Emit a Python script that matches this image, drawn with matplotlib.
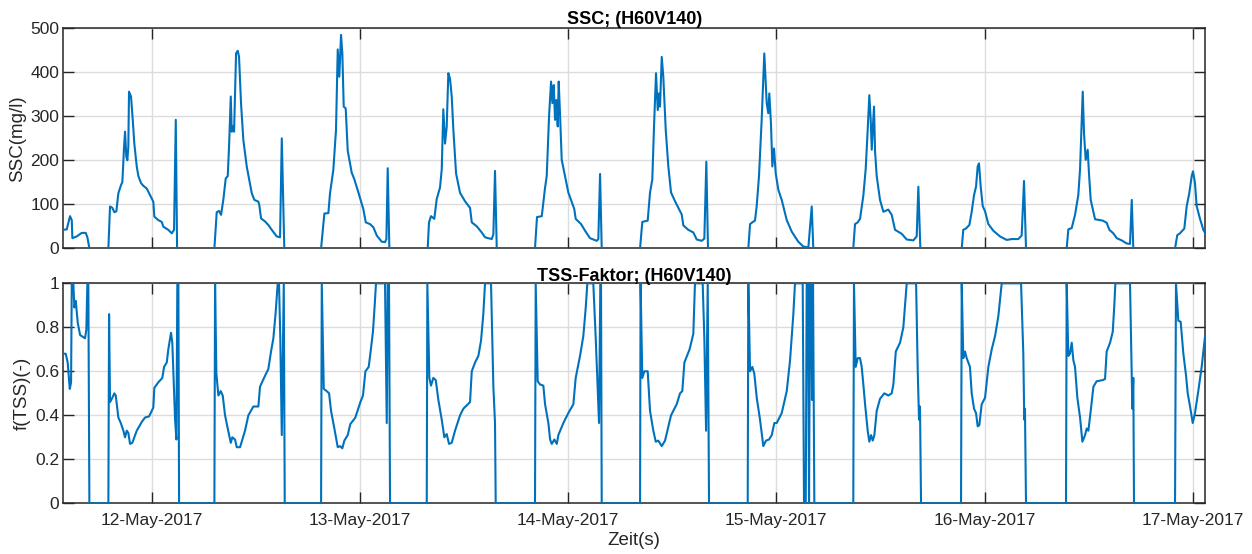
import matplotlib
matplotlib.use("Agg")
import matplotlib.pyplot as plt
import matplotlib.dates as mdates
import numpy as np
import pandas as pd

plt.rcParams['font.family'] = ['Liberation Sans', 'DejaVu Sans']

# Zeit in Stunden ab 11-May-2017 00:00
ssc_hours = [
    13.81, 14.20, 14.58, 14.78, 14.85, 15.35, 15.93, 16.39, 16.58, 16.81,
    19.00, 19.19, 19.46, 19.69, 19.92, 20.15, 20.46, 20.61, 20.81, 20.92,
    21.07, 21.19, 21.30, 21.38, 21.61, 21.81, 21.99, 22.27, 22.46, 22.77,
    23.03, 23.42, 23.80, 24.18, 24.30, 24.76, 25.15, 25.34, 25.91, 26.31,
    26.57, 26.77, 26.92,
    31.22, 31.49, 31.76, 31.99, 32.25, 32.53, 32.76, 32.91, 33.11, 33.22,
    33.37, 33.49, 33.72, 33.91, 34.06, 34.29, 34.56, 34.95, 35.53, 35.83,
    36.29, 36.40, 36.60, 37.06, 37.44, 37.83, 38.41, 38.79, 38.99, 39.28,
    43.52, 43.90, 44.36, 44.55, 44.93, 45.24, 45.44, 45.62, 45.82, 45.97,
    46.13, 46.36, 46.59, 47.05, 47.35, 47.82, 48.39, 48.67, 49.16, 49.54,
    49.94, 50.51, 50.89, 51.05, 51.20, 51.39,
    55.81, 55.96, 56.19, 56.57, 56.85, 57.23, 57.43, 57.61, 57.81, 58.00,
    58.19, 58.38, 58.58, 58.77, 59.08, 59.54, 60.11, 60.69, 60.89, 61.46,
    62.04, 62.42, 63.19, 63.38, 63.57, 63.77,
    68.18, 68.41, 68.96, 69.34, 69.53, 69.80, 70.03, 70.18, 70.34, 70.49,
    70.64, 70.80, 70.91, 71.06, 71.26, 71.64, 72.02, 72.71, 72.87, 73.49,
    73.95, 74.52, 75.30, 75.48, 75.68, 75.87,
    80.29, 80.55, 81.17, 81.44, 81.70, 81.90, 82.13, 82.33, 82.48, 82.59,
    82.79, 82.97, 83.25, 83.55, 83.86, 84.32, 84.70, 85.09, 85.28, 85.85,
    86.43, 86.82, 87.40, 87.70, 87.93, 88.12,
    92.77, 92.97, 93.23, 93.54, 93.74, 94.00, 94.31, 94.61, 94.89, 95.07,
    95.19, 95.38, 95.54, 95.73, 95.93, 96.23, 96.62, 97.20, 97.77, 98.53,
    99.11, 99.69, 100.08, 100.26,
    104.87, 105.07, 105.38, 105.65, 106.03, 106.30, 106.53, 106.72, 106.88, 107.00,
    107.15, 107.26, 107.38, 107.57, 107.95, 108.34, 108.91, 109.30, 109.68, 110.45,
    111.03, 111.79, 112.18, 112.37, 112.60,
    117.37, 117.55, 117.86, 118.25, 118.52, 118.79, 119.02, 119.21, 119.36, 119.56,
    119.79, 120.06, 120.44, 121.01, 121.78, 122.56, 123.13, 123.89, 124.28, 124.55,
    124.78,
    129.47, 129.66, 130.05, 130.43, 130.81, 131.01, 131.32, 131.47, 131.66, 131.89,
    132.04, 132.24, 132.74, 133.62, 134.08, 134.39, 134.85, 135.24, 135.81, 136.39,
    136.77, 136.97, 137.15,
    141.96, 142.22, 142.53, 143.03, 143.30, 143.60, 143.88, 144.03, 144.26, 144.45,
    144.84, 145.22, 145.42,
]
ssc_values = [
    42, 43, 73, 64, 23, 27, 35, 35, 25, 0,
    0, 95, 92, 82, 84, 125, 144, 150, 231, 265,
    208, 200, 231, 356, 345, 292, 238, 186, 164, 148,
    142, 136, 121, 106, 72, 64, 60, 49, 42, 34,
    42, 292, 0,
    0, 82, 85, 76, 110, 159, 164, 231, 345, 265,
    277, 265, 443, 449, 436, 330, 246, 186, 125, 110,
    106, 98, 68, 61, 53, 42, 27, 25, 250, 0,
    0, 79, 80, 125, 178, 269, 452, 390, 485, 443,
    322, 318, 222, 172, 157, 127, 89, 59, 55, 48,
    29, 15, 14, 21, 182, 0,
    0, 59, 73, 67, 112, 138, 180, 316, 238, 276,
    398, 386, 345, 269, 170, 126, 107, 92, 59, 50,
    36, 25, 21, 32, 176, 0,
    0, 71, 73, 138, 164, 300, 379, 330, 371, 292,
    337, 277, 379, 307, 201, 164, 127, 89, 67, 55,
    40, 23, 17, 21, 169, 0,
    0, 60, 63, 127, 156, 277, 398, 314, 352, 322,
    435, 390, 269, 186, 127, 107, 92, 77, 52, 42,
    36, 20, 17, 22, 197, 0,
    0, 55, 59, 63, 97, 164, 292, 443, 330, 307,
    352, 284, 186, 227, 170, 133, 110, 64, 38, 15,
    4, 2, 95, 0,
    0, 55, 59, 67, 120, 180, 269, 348, 292, 224,
    284, 322, 220, 164, 110, 83, 88, 76, 42, 33,
    20, 18, 27, 140, 0,
    0, 42, 45, 53, 83, 121, 140, 186, 193, 140,
    96, 84, 55, 40, 27, 19, 21, 21, 29, 153,
    0,
    0, 43, 46, 76, 121, 180, 356, 261, 201, 224,
    170, 110, 66, 63, 58, 42, 34, 23, 18, 11,
    10, 110, 0,
    0, 30, 34, 45, 95, 125, 164, 175, 148, 96,
    67, 42, 35,
]

tss_hours = [
    13.81, 14.08, 14.31, 14.55, 14.70, 14.78, 14.96, 15.08, 15.24, 15.47,
    15.74, 16.31, 16.46, 16.58, 16.69, 16.81,
    19.00, 19.08, 19.19, 19.46, 19.69, 19.85, 20.15, 20.43, 20.73, 20.92,
    21.12, 21.30, 21.50, 21.76, 22.27, 22.85, 23.23, 23.69, 24.18, 24.30,
    24.76, 25.22, 25.42, 25.73, 25.91, 26.22, 26.37, 26.69, 26.84, 26.95,
    27.07, 27.15,
    31.22, 31.30, 31.45, 31.68, 31.95, 32.18, 32.45, 32.76, 33.11, 33.29,
    33.60, 33.80, 34.18, 34.75, 35.14, 35.71, 36.29, 36.48, 37.06, 37.44,
    37.75, 38.02, 38.29, 38.52, 38.67, 38.82, 38.99, 39.22, 39.33,
    43.52, 43.60, 43.83, 44.17, 44.44, 44.67, 45.05, 45.44, 45.71, 45.97,
    46.20, 46.59, 46.89, 47.47, 48.05, 48.35, 48.63, 49.01, 49.20, 49.50,
    49.70, 49.85, 50.89, 51.09, 51.20, 51.35, 51.47,
    55.70, 55.77, 56.00, 56.19, 56.46, 56.74, 57.04, 57.43, 57.73, 58.00,
    58.27, 58.58, 58.96, 59.54, 59.92, 60.69, 60.89, 61.27, 61.65, 61.96,
    62.22, 62.42, 63.11, 63.38, 63.57, 63.65,
    68.18, 68.26, 68.49, 68.76, 69.14, 69.34, 69.72, 69.92, 70.11, 70.41,
    70.69, 70.87, 71.45, 72.02, 72.60, 72.87, 73.37, 73.75, 74.03, 74.21,
    74.90, 75.18, 75.56, 75.71, 75.79, 75.87,
    80.29, 80.35, 80.55, 80.78, 81.17, 81.44, 81.82, 82.10, 82.39, 82.79,
    83.17, 83.86, 84.51, 84.90, 85.16, 85.40, 86.00, 86.43, 86.62, 87.51,
    87.70, 87.90, 88.09, 88.24,
    92.70, 92.77, 92.97, 93.23, 93.46, 93.74, 94.12, 94.50, 94.81, 95.16,
    95.47, 95.77, 96.04, 96.62, 97.20, 97.58, 97.96, 98.15, 99.04, 99.19,
    99.39, 99.50, 99.65, 99.77, 99.88, 100.00, 100.11, 100.23, 100.38,
    104.87, 104.95, 105.15, 105.38, 105.65, 105.84, 106.03, 106.23, 106.53, 106.72,
    106.92, 107.11, 107.30, 107.57, 107.95, 108.45, 108.91, 109.30, 109.49, 109.77,
    110.26, 110.64, 110.84, 111.03, 112.11, 112.30, 112.45, 112.56, 112.68,
    117.29, 117.37, 117.55, 117.75, 117.94, 118.13, 118.32, 118.52, 118.79, 119.02,
    119.21, 119.40, 119.67, 120.06, 120.44, 120.83, 121.21, 121.59, 121.98, 124.21,
    124.47, 124.58, 124.66, 124.78,
    129.39, 129.47, 129.66, 129.85, 130.05, 130.24, 130.43, 130.70, 131.01, 131.28,
    131.59, 131.78, 131.97, 132.24, 132.55, 132.93, 133.62, 133.89, 134.08, 134.47,
    134.78, 134.96, 135.08, 136.77, 136.97, 137.04, 137.15, 137.23,
    141.96, 142.07, 142.34, 142.61, 142.92, 143.23, 143.42, 143.69, 144.00, 144.26,
    144.64, 145.03, 145.42,
]
tss_values = [
    0.68, 0.68, 0.64, 0.52, 0.55, 1.0, 1.0, 0.89, 0.92, 0.82,
    0.765, 0.75, 0.79, 1.0, 1.0, 0,
    0, 0.86, 0.46, 0.48, 0.50, 0.49, 0.39, 0.365, 0.33, 0.30,
    0.33, 0.32, 0.27, 0.275, 0.33, 0.37, 0.39, 0.395, 0.435, 0.525,
    0.55, 0.57, 0.62, 0.64, 0.70, 0.775, 0.73, 0.38, 0.29, 1.0,
    1.0, 0,
    0, 1.0, 0.59, 0.49, 0.51, 0.49, 0.40, 0.34, 0.275, 0.30,
    0.29, 0.255, 0.255, 0.33, 0.40, 0.44, 0.44, 0.53, 0.58, 0.61,
    0.69, 0.75, 0.87, 1.0, 1.0, 0.75, 0.31, 1.0, 0,
    0, 1.0, 0.52, 0.51, 0.50, 0.42, 0.34, 0.255, 0.26, 0.25,
    0.285, 0.31, 0.36, 0.39, 0.46, 0.49, 0.60, 0.62, 0.68, 0.78,
    0.90, 1.0, 1.0, 0.365, 1.0, 1.0, 0,
    0, 1.0, 0.57, 0.535, 0.57, 0.56, 0.47, 0.38, 0.30, 0.315,
    0.27, 0.275, 0.33, 0.40, 0.43, 0.46, 0.60, 0.64, 0.67, 0.74,
    0.86, 1.0, 1.0, 0.53, 0.365, 0,
    0, 1.0, 0.555, 0.54, 0.535, 0.45, 0.365, 0.29, 0.27, 0.29,
    0.27, 0.31, 0.365, 0.41, 0.45, 0.57, 0.67, 0.76, 0.89, 1.0,
    1.0, 0.75, 0.365, 1.0, 1.0, 0,
    0, 1.0, 0.57, 0.60, 0.60, 0.42, 0.33, 0.28, 0.285, 0.26,
    0.285, 0.40, 0.45, 0.50, 0.51, 0.64, 0.70, 0.77, 1.0, 1.0,
    0.75, 0.33, 1.0, 0,
    0, 1.0, 0.60, 0.62, 0.59, 0.48, 0.38, 0.26, 0.285, 0.29,
    0.31, 0.365, 0.365, 0.41, 0.51, 0.65, 0.86, 1.0, 1.0, 0,
    0, 1.0, 1.0, 0, 1.0, 1.0, 0.47, 1.0, 0,
    0, 1.0, 0.62, 0.66, 0.66, 0.62, 0.54, 0.45, 0.33, 0.28,
    0.31, 0.285, 0.31, 0.42, 0.475, 0.50, 0.49, 0.50, 0.54, 0.69,
    0.73, 0.80, 0.90, 1.0, 1.0, 0.60, 0.38, 0.44, 0,
    0, 1.0, 0.66, 0.69, 0.66, 0.64, 0.62, 0.50, 0.43, 0.41,
    0.35, 0.355, 0.45, 0.48, 0.62, 0.70, 0.76, 0.85, 1.0, 1.0,
    0.68, 0.38, 0.43, 0,
    0, 1.0, 0.67, 0.68, 0.73, 0.65, 0.62, 0.48, 0.39, 0.28,
    0.31, 0.34, 0.33, 0.42, 0.53, 0.555, 0.56, 0.565, 0.69, 0.73,
    0.78, 0.90, 1.0, 1.0, 0.58, 0.43, 0.57, 0,
    0, 1.0, 0.83, 0.825, 0.68, 0.58, 0.50, 0.44, 0.365, 0.41,
    0.51, 0.62, 0.76,
]

start = pd.Timestamp('2017-05-11')
ssc_t = start + pd.to_timedelta(ssc_hours, unit='h')
tss_t = start + pd.to_timedelta(tss_hours, unit='h')

blue = '#0072BD'
dark = '#262626'

fig = plt.figure(figsize=(12.52, 5.54), dpi=100)
ax1 = fig.add_axes([0.0506, 0.5518, 0.9119, 0.3971])
ax2 = fig.add_axes([0.0506, 0.0915, 0.9119, 0.3971], sharex=ax1)

ax1.plot(ssc_t, ssc_values, color=blue, lw=1.5, zorder=3)
ax2.plot(tss_t, tss_values, color=blue, lw=1.5, zorder=3)

xmin = start + pd.Timedelta(hours=13.81)
xmax = start + pd.Timedelta(hours=145.42)
ax1.set_xlim(xmin, xmax)
ax1.set_ylim(0, 500)
ax2.set_ylim(0, 1)
ax1.set_yticks([0, 100, 200, 300, 400, 500])
ax2.set_yticks([0, 0.2, 0.4, 0.6, 0.8, 1])
ax2.set_yticklabels(['0', '0.2', '0.4', '0.6', '0.8', '1'])

ax2.xaxis.set_major_locator(mdates.DayLocator())
ax2.xaxis.set_major_formatter(mdates.DateFormatter('%d-%b-%Y'))
plt.setp(ax1.get_xticklabels(), visible=False)

for ax in (ax1, ax2):
    ax.grid(True, color='#dcdcdc', lw=1.0)
    ax.set_axisbelow(True)
    ax.tick_params(direction='in', length=8, width=1.0, colors=dark,
                   labelsize=12.5, top=True, right=True)
    ax.tick_params(axis='y', pad=3)
    ax.tick_params(axis='x', pad=7)
    for s in ax.spines.values():
        s.set_color(dark)
        s.set_linewidth(1.1)

ax1.set_title('SSC; (H60V140)', fontsize=13, fontweight='bold', pad=2)
ax2.set_title('TSS-Faktor; (H60V140)', fontsize=13, fontweight='bold', pad=2)
ax1.set_ylabel('SSC(mg/l)', fontsize=13.5, color=dark, labelpad=3)
ax2.set_ylabel('f(TSS)(-)', fontsize=13.5, color=dark, labelpad=3)
ax2.set_xlabel('Zeit(s)', fontsize=13.5, color=dark, labelpad=3)

fig.savefig('out.png', dpi=100)
